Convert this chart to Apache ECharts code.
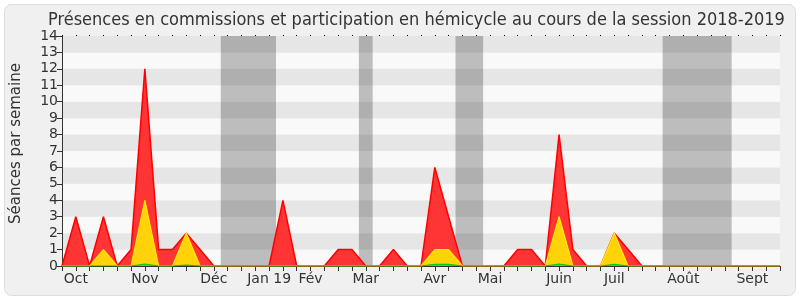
<!DOCTYPE html>
<html>
<head>
<meta charset="utf-8">
<script src="https://cdn.jsdelivr.net/npm/echarts@6/dist/echarts.min.js"></script>
<style>html,body{margin:0;padding:0;background:#fff}#c{width:800px;height:300px}</style>
</head>
<body>
<div id="c"></div>
<script>
// weekly values, week index 0..52 (session 2018-2019)
const redValues    = [0,3,0,3,0,1,12,1,1,2,1,0,0,0,0,0,4,0,0,0,1,1,0,0,1,0,0,6,3,0,0,0,0,1,1,0,8,1,0,0,2,1,0,0,0,0,0,0,0,0,0,0,0];
const yellowValues = [0,0,0,1,0,0,4,0,0,2,0,0,0,0,0,0,0,0,0,0,0,0,0,0,0,0,0,1,1,0,0,0,0,0,0,0,3,0,0,0,2,0,0,0,0,0,0,0,0,0,0,0,0];
const greenValues  = [0,0,0,0,0,0,0.12,0,0,0.05,0,0,0,0,0,0,0,0,0,0,0,0,0,0,0,0,0,0.1,0.1,0,0,0,0,0,0,0,0.12,0,0,0,0.1,0,0,0,0,0,0,0,0,0,0,0,0];
const monthLabels  = ['Oct','Nov','Déc','Jan 19','Fév','Mar','Avr','Mai','Juin','Juil','Août','Sept'];
const monthWeeks   = [1,6,11,15,18,22,27,31,36,40,45,50];
const vacationStart = [11.5,21.5,28.5,43.5];
const vacationEnd   = [15.5,22.5,30.5,48.5];
const titleText = 'Présences en commissions et participation en hémicycle au cours de la session 2018-2019';
const yAxisTitle = 'Séances par semaine';

const labelMap = {};
monthWeeks.forEach((w, i) => { labelMap[w] = monthLabels[i]; });
const toPairs = arr => arr.map((v, i) => [i, v]);
const FONT = 'DejaVu Sans';
const FONT_C = '"DejaVu Sans Condensed", "DejaVu Sans"';

const chart = echarts.init(document.getElementById('c'), null, {renderer: 'canvas'});
chart.setOption({
  animation: false,
  backgroundColor: '#ffffff',
  textStyle: {fontFamily: FONT},
  graphic: [{
    type: 'rect', z: -10, silent: true,
    shape: {x: 4.5, y: 4.5, width: 791, height: 291, r: 7},
    style: {fill: '#F0F0F0', stroke: '#DDDDDD', lineWidth: 1}
  }],
  title: {
    text: titleText, left: 43, top: 6,
    textStyle: {fontFamily: FONT_C, fontSize: 18, fontWeight: 'normal', color: '#333333'}
  },
  grid: {left: 62, right: 20, top: 36, bottom: 34, containLabel: false},
  xAxis: [{
    type: 'value', min: 0, max: 52, interval: 1,
    axisLine: {show: true, lineStyle: {color: '#333333', width: 1}},
    axisTick: {show: true, length: 5, lineStyle: {color: '#333333'}},
    axisLabel: {
      show: true, margin: 6, fontFamily: FONT, fontSize: 14, color: '#333333',
      showMinLabel: true, showMaxLabel: true,
      formatter: v => labelMap[v] || ''
    },
    splitLine: {show: false}
  }, {
    type: 'value', position: 'top', min: 0, max: 52, interval: 1,
    axisLine: {show: false},
    axisTick: {show: true, length: 1, lineStyle: {color: '#000000'}},
    axisLabel: {show: false},
    splitLine: {show: false}
  }],
  yAxis: {
    type: 'value', min: 0, max: 14, interval: 1,
    name: yAxisTitle, nameLocation: 'middle', nameGap: 38, nameRotate: 90,
    nameTextStyle: {fontFamily: FONT, fontSize: 15, color: '#333333', padding: [0, 0, 0, 15]},
    axisLine: {show: true, lineStyle: {color: '#333333', width: 1}},
    axisTick: {show: true, length: 5, lineStyle: {color: '#333333'}},
    axisLabel: {margin: 4, fontFamily: FONT, fontSize: 14, color: '#333333'},
    splitLine: {show: false},
    splitArea: {show: true, areaStyle: {color: ['#F9F9F9', '#E6E6E6']}}
  },
  series: [
    {
      type: 'line', z: 1, data: [], silent: true,
      markArea: {
        silent: true,
        itemStyle: {color: 'rgba(0,0,0,0.24)'},
        data: vacationStart.map((s, i) => [{xAxis: s}, {xAxis: vacationEnd[i]}])
      }
    },
    {
      type: 'line', z: 3, data: toPairs(redValues), symbol: 'none',
      lineStyle: {color: '#FF0000', width: 1.5},
      areaStyle: {color: '#FF3535', opacity: 1, origin: 'start'}
    },
    {
      type: 'line', z: 4, data: toPairs(yellowValues), symbol: 'none',
      lineStyle: {color: '#FFEE00', width: 1.2},
      areaStyle: {color: '#FFD20A', opacity: 1, origin: 'start'}
    },
    {
      type: 'line', z: 5, data: toPairs(greenValues), symbol: 'none',
      lineStyle: {color: '#00CC00', width: 1.2},
      areaStyle: {color: '#00CC00', opacity: 0.6, origin: 'start'}
    }
  ]
});
</script>
</body>
</html>
